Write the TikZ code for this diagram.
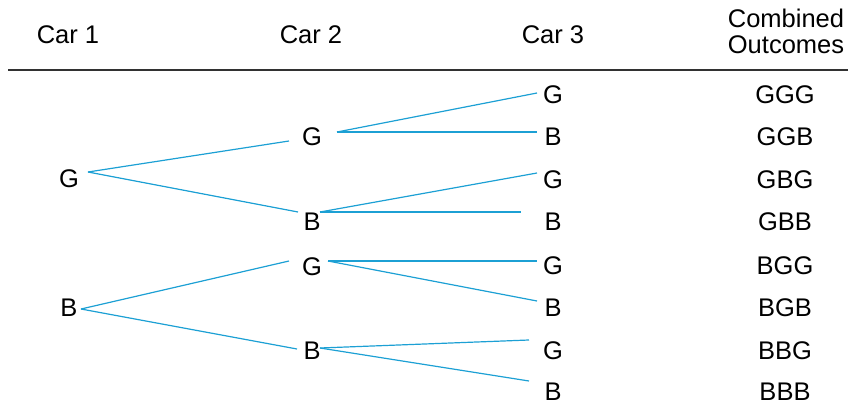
\documentclass[tikz,border=0pt]{standalone}
\usepackage{fontspec}
\setmainfont{Liberation Sans}
\definecolor{branch}{RGB}{28,160,212}
\definecolor{rulegray}{RGB}{50,50,50}
\begin{document}
\begin{tikzpicture}[x=1pt,y=-1pt,
  lbl/.style={inner sep=0pt,font=\fontsize{25.5}{25}\selectfont,text height=18pt,text depth=0pt},
  hdr/.style={inner sep=0pt,font=\fontsize{25.5}{25}\selectfont,align=center},
  br/.style={draw=branch,line width=1.2pt}]
\useasboundingbox (0,0) rectangle (848,404);
% headers
\node[lbl] (h1) at (68,35) {Car 1};
\node[lbl] (h2) at (311,35) {Car 2};
\node[lbl] (h3) at (553,35) {Car 3};
\node[hdr,anchor=base] (h4) at (786,53) {Combined\\Outcomes};
\coordinate (rl) at (8,70);
\coordinate (rr) at (848,70);
\draw[rulegray,line width=1.8pt] (rl) -- (rr);
% car 1
\node[lbl] (c1g) at (69,178) {G};
\node[lbl] (c1b) at (69,307) {B};
% car 2
\node[lbl] (c2g1) at (312,136) {G};
\node[lbl] (c2b1) at (312,221) {B};
\node[lbl] (c2g2) at (312,266) {G};
\node[lbl] (c2b2) at (312,350) {B};
% car 3
\node[lbl] (c3a) at (553,94) {G};
\node[lbl] (c3b) at (553,136) {B};
\node[lbl] (c3c) at (553,179) {G};
\node[lbl] (c3d) at (553,221) {B};
\node[lbl] (c3e) at (553,265) {G};
\node[lbl] (c3f) at (553,307) {B};
\node[lbl] (c3g) at (553,350) {G};
\node[lbl] (c3h) at (553,391) {B};
% outcomes
\node[lbl] (o1) at (785,94) {GGG};
\node[lbl] (o2) at (785,136) {GGB};
\node[lbl] (o3) at (785,179) {GBG};
\node[lbl] (o4) at (785,221) {GBB};
\node[lbl] (o5) at (785,265) {BGG};
\node[lbl] (o6) at (785,307) {BGB};
\node[lbl] (o7) at (785,350) {BBG};
\node[lbl] (o8) at (785,391) {BBB};
% branches car1 -> car2
\draw[br] ([shift={(19pt,6pt)}]c1g.center) -- ([shift={(-23pt,-5pt)}]c2g1.center);
\draw[br] ([shift={(19pt,6pt)}]c1g.center) -- ([shift={(-14pt,9pt)}]c2b1.center);
\draw[br] ([shift={(12pt,-2pt)}]c1b.center) -- ([shift={(-23pt,5pt)}]c2g2.center);
\draw[br] ([shift={(12pt,-2pt)}]c1b.center) -- ([shift={(-15pt,1pt)}]c2b2.center);
% branches car2 -> car3
\draw[br] ([shift={(25pt,4pt)}]c2g1.center) -- ([shift={(-16pt,1pt)}]c3a.center);
\draw[br] ([shift={(25pt,4pt)}]c2g1.center) -- ([shift={(-16pt,4pt)}]c3b.center);
\draw[br] ([shift={(8pt,9pt)}]c2b1.center) -- ([shift={(-16pt,6pt)}]c3c.center);
\draw[br] ([shift={(8pt,9pt)}]c2b1.center) -- ([shift={(-32pt,9pt)}]c3d.center);
\draw[br] ([shift={(16pt,5pt)}]c2g2.center) -- ([shift={(-16pt,4pt)}]c3e.center);
\draw[br] ([shift={(16pt,5pt)}]c2g2.center) -- ([shift={(-16pt,6pt)}]c3f.center);
\draw[br] ([shift={(8pt,2pt)}]c2b2.center) -- ([shift={(-24pt,10pt)}]c3g.center);
\draw[br] ([shift={(8pt,2pt)}]c2b2.center) -- ([shift={(-24pt,10pt)}]c3h.center);
\end{tikzpicture}
\end{document}
